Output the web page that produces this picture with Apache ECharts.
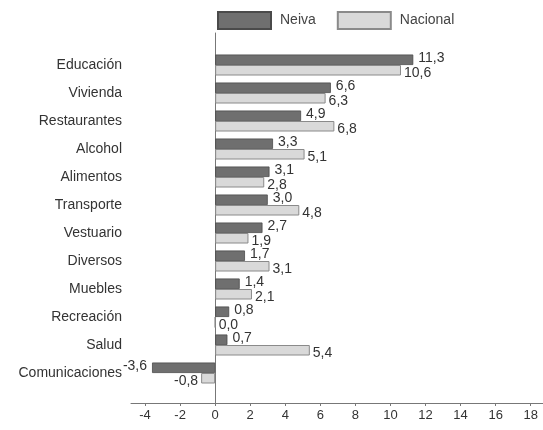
<!DOCTYPE html>
<html>
<head>
<meta charset="utf-8">
<script src="https://cdn.jsdelivr.net/npm/echarts@6/dist/echarts.min.js"></script>
<style>html,body{margin:0;padding:0;background:#fff;}#c{width:543px;height:430px;}</style>
</head>
<body>
<div id="c"></div>
<script>
const categories = ['Educación','Vivienda','Restaurantes','Alcohol','Alimentos','Transporte','Vestuario','Diversos','Muebles','Recreación','Salud','Comunicaciones'];
const neiva    = [11.3, 6.6, 4.9, 3.3, 3.1, 3.0, 2.7, 1.7, 1.4, 0.8, 0.7, -3.6];
const nacional = [10.6, 6.3, 6.8, 5.1, 2.8, 4.8, 1.9, 3.1, 2.1, 0.0, 5.4, -0.8];
const xTicks = [-4,-2,0,2,4,6,8,10,12,14,16,18];

const fmt = v => v.toFixed(1).replace('.', ',');
const font = 'Liberation Sans, Arial, sans-serif';
const xMin = -4.8, xMax = 18.7;

function items(arr, dy) {
  return arr.map(v => ({
    value: v,
    label: { position: v < 0 ? 'left' : 'right', offset: [0, dy] }
  }));
}

const chart = echarts.init(document.getElementById('c'), null, {renderer: 'canvas'});
chart.setOption({
  animation: false,
  backgroundColor: '#fff',
  legend: {
    left: 212, top: 6,
    icon: 'rect',
    itemWidth: 53, itemHeight: 17, itemGap: 21,
    textStyle: { fontFamily: font, fontSize: 14, color: '#444', padding: [0,0,0,4] },
    data: ['Neiva', 'Nacional']
  },
  grid: [
    { left: 131, right: 0, top: 33, bottom: 27 },
    { left: 131, right: 0, top: 51, bottom: 43 }
  ],
  xAxis: [
    {
      gridIndex: 0, type: 'value', min: xMin, max: xMax,
      axisLine: { show: true, lineStyle: { color: '#777', width: 1 } },
      axisTick: { show: true, customValues: xTicks, length: 3, inside: false, lineStyle: { color: '#777' } },
      axisLabel: { customValues: xTicks, fontFamily: font, fontSize: 13, color: '#333', margin: 6 },
      splitLine: { show: false }
    },
    {
      gridIndex: 1, type: 'value', min: xMin, max: xMax, show: false,
      splitLine: { show: false }
    }
  ],
  yAxis: [
    {
      gridIndex: 0, type: 'value', min: 0, max: 1,
      axisLine: { show: true, lineStyle: { color: '#777', width: 1 } },
      axisTick: { show: false }, axisLabel: { show: false }, splitLine: { show: false }
    },
    {
      gridIndex: 1, type: 'category', inverse: true, data: categories,
      axisLine: { show: false }, axisTick: { show: false },
      axisLabel: { fontFamily: font, fontSize: 14, color: '#333', margin: 9 }
    }
  ],
  series: [
    {
      name: 'Neiva', type: 'bar', xAxisIndex: 1, yAxisIndex: 1,
      data: items(neiva, -2),
      barGap: '0%', barCategoryGap: '25%',
      itemStyle: { color: '#6f6f6f', borderColor: '#4a4a4a', borderWidth: 0.8 },
      label: { show: true, distance: 5, formatter: p => fmt(p.value), fontFamily: font, fontSize: 14, color: '#333' }
    },
    {
      name: 'Nacional', type: 'bar', xAxisIndex: 1, yAxisIndex: 1,
      data: items(nacional, 3),
      barGap: '0%', barCategoryGap: '25%',
      itemStyle: { color: '#d9d9d9', borderColor: '#8a8a8a', borderWidth: 1 },
      label: { show: true, distance: 3, formatter: p => fmt(p.value), fontFamily: font, fontSize: 14, color: '#333' }
    }
  ]
});
</script>
</body>
</html>
